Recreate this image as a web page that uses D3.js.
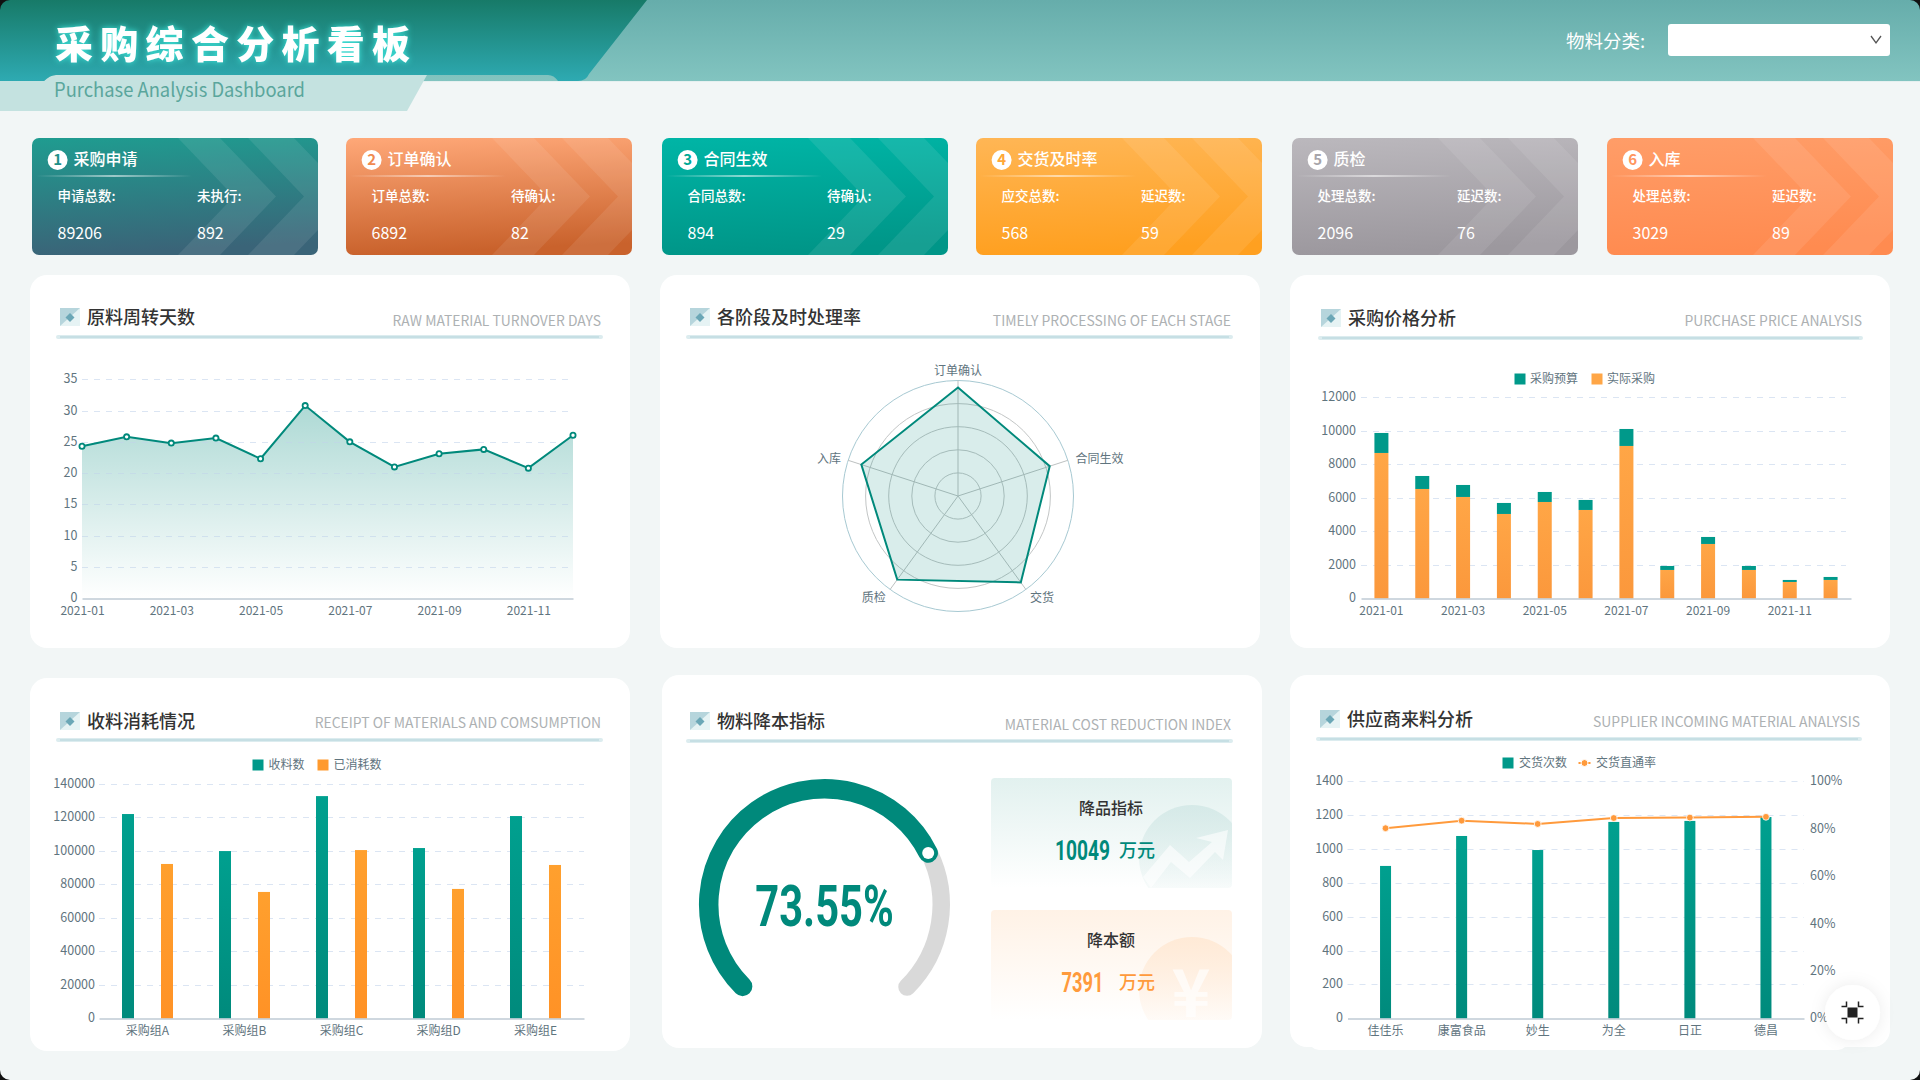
<!DOCTYPE html>
<html lang="zh">
<head>
<meta charset="utf-8">
<title>采购综合分析看板</title>
<script src="https://cdn.jsdelivr.net/npm/d3@7"></script>
<style>
html,body{margin:0;padding:0;background:#f2f6f6;overflow:hidden}
svg{display:block}
text{font-family:"Noto Sans CJK SC","Noto Sans",sans-serif}
.tick text{font-family:"Noto Sans CJK SC","Noto Sans",sans-serif}
.num{font-family:"Roboto","Liberation Sans",sans-serif;font-weight:700}
</style>
</head>
<body>
<svg id="c" width="1920" height="1080" xmlns="http://www.w3.org/2000/svg"></svg>
<script>
// ---------- data ----------
const kpiTitles  = ["采购申请","订单确认","合同生效","交货及时率","质检","入库"];
const kpiLabelsA = ["申请总数:","订单总数:","合同总数:","应交总数:","处理总数:","处理总数:"];
const kpiLabelsB = ["未执行:","待确认:","待确认:","延迟数:","延迟数:","延迟数:"];
const kpiValuesA = [89206,6892,894,568,2096,3029];
const kpiValuesB = [892,82,29,59,76,89];

const months = ["2021-01","2021-02","2021-03","2021-04","2021-05","2021-06","2021-07","2021-08","2021-09","2021-10","2021-11","2021-12"];
const monthTicks = ["2021-01","2021-03","2021-05","2021-07","2021-09","2021-11"];
const turnoverDays = [24.3,25.8,24.8,25.6,22.3,30.8,25.0,21.0,23.1,23.8,20.8,26.05];
const turnoverTicks = [0,5,10,15,20,25,30,35];

const stages = ["订单确认","合同生效","交货","质检","入库"];
const stageRates = [94,83.5,92.5,89.5,88];
const radarRings = [20,40,60,80,100];

const actualPurchase = [8677,6527,6050,5035,5751,5274,9095,1692,3244,1692,975,1095];
const budgetPurchase = [1194,776,716,657,597,597,1014,238,418,238,120,179];
const priceTicks = [0,2000,4000,6000,8000,10000,12000];

const buyerGroups = ["采购组A","采购组B","采购组C","采购组D","采购组E"];
const received = [121900,99800,132600,101600,120700];
const consumed = [92100,75400,100400,77200,91500];
const receiptTicks = [0,20000,40000,60000,80000,100000,120000,140000];

const gaugeValue = 73.55;
const productTarget = 10049;
const costReduction = 7391;

const suppliers = ["佳佳乐","康富食品","妙生","为全","日正","德昌"];
const deliveries = [900,1077,994,1160,1166,1189];
const passRate = [80.2,83.4,82.0,84.5,84.7,85.0];
const deliveryTicks = [0,200,400,600,800,1000,1200,1400];
const rateTicks = [0,20,40,60,80,100];

// ---------- palette ----------
const TEAL="#00897b", ORANGE="#ff9a3c", TICK="#5f747e", GRID="#dbe5f3", AXIS="#9fb0bf";
const svg=d3.select("#c"), defs=svg.append("defs");

function grad(id,stops,x2=0,y2=1){
  const g=defs.append("linearGradient").attr("id",id).attr("x1",0).attr("y1",0).attr("x2",x2).attr("y2",y2);
  stops.forEach(s=>g.append("stop").attr("offset",s[0]).attr("stop-color",s[1]).attr("stop-opacity",s[2]===undefined?1:s[2]));
  return `url(#${id})`;
}
function label(g,x,y,t,size,fill,anchor="start",weight=400){
  return g.append("text").attr("x",x).attr("y",y).attr("dy","0.36em").attr("font-size",size)
    .attr("fill",fill).attr("text-anchor",anchor).attr("font-weight",weight).text(t);
}
const fit=(s,w)=>s.attr("textLength",w).attr("lengthAdjust","spacingAndGlyphs");

// ---------- page & header ----------
svg.append("rect").attr("width",1920).attr("height",1080).attr("fill","#f2f6f6");
svg.append("rect").attr("width",1920).attr("height",81).attr("fill",grad("hdrR",[[0,"#66adab"],[1,"#82c4c0"]]));
svg.append("rect").attr("y",81).attr("width",1920).attr("height",1).attr("fill","#e6f0f0");
svg.append("path").attr("d","M0 81H44Q50 75 56 75H427L407 111H0Z").attr("fill","#c4e2e0");
svg.append("path").attr("d","M0 81H44Q50 75 56 75H548Q554 75 558 81H578Q586 81 589 74L647 0H0Z")
  .attr("fill",grad("hdrL",[[0,"#177a68"],[1,"#2eaab2"]]));
label(svg,55,44,"采购综合分析看板",38,"#fff","start",900).attr("letter-spacing",7.3)
  .style("filter","drop-shadow(0 0 3px #3fe6dc)");
fit(label(svg,54,90,"Purchase Analysis Dashboard",19.5,"#5aa69c"),251);
label(svg,1566,41,"物料分类:",18.5,"#fff");
svg.append("rect").attr("x",1668).attr("y",24).attr("width",222).attr("height",32).attr("rx",3).attr("fill","#fff");
svg.append("path").attr("d","M1871 36L1876 43L1881 36").attr("fill","none").attr("stroke","#555").attr("stroke-width",1.3);

// ---------- KPI cards ----------
const kpiX=[32,346,662,976,1292,1607], KW=286, KH=117, KY=138;
const kpiGrad=[["#1f9c90","#3a6478"],["#ffa878","#c9622c"],["#00b5a6","#009688"],["#ffb655","#ffa020"],["#bbb8bd","#9c989e"],["#ff9d68","#ff8b50"]];
const kpiNum=["#1f8f88","#f08a50","#00a896","#ffa838","#a8a5aa","#ff9560"];
kpiX.forEach((x,i)=>{
  const g=svg.append("g").attr("transform",`translate(${x},${KY})`);
  const cid="kc"+i;
  defs.append("clipPath").attr("id",cid).append("rect").attr("width",KW).attr("height",KH).attr("rx",7);
  g.append("rect").attr("width",KW).attr("height",KH).attr("rx",7).attr("fill",grad("kg"+i,[[0,kpiGrad[i][0]],[1,kpiGrad[i][1]]],0.12,1));
  const c=g.append("g").attr("clip-path",`url(#${cid})`);
  [[146,188],[216,262]].forEach(([a,b])=>{
    c.append("path").attr("d",`M${a} 0H${b}L${b+56} 58.5L${b} 117H${a}L${a+56} 58.5Z`).attr("fill","#fff").attr("fill-opacity",0.085);
  });
  g.append("circle").attr("cx",25.6).attr("cy",22).attr("r",10).attr("fill","#fff");
  label(g,25.6,22,i+1,15,kpiNum[i],"middle",700);
  label(g,41.5,21,kpiTitles[i],16,"#fff","start",500);
  g.append("rect").attr("x",4).attr("y",37).attr("width",156).attr("height",2)
    .attr("fill",grad("kl"+i,[[0,"#fff",0],[0.5,"#fff",0.55],[1,"#fff",0]],1,0));
  label(g,25.6,58,kpiLabelsA[i],13.5,"#fff","start",500);
  label(g,165,58,kpiLabelsB[i],13.5,"#fff","start",500);
  label(g,25.6,95,kpiValuesA[i],16,"#fff");
  label(g,165,95,kpiValuesB[i],16,"#fff");
});

// ---------- panels ----------
const panelCol="#fff";
svg.append("rect").attr("x",1309).attr("y",900).attr("width",539).attr("height",150).attr("rx",10).attr("fill",panelCol);
[[30,275,600,373],[660,275,600,373],[1290,275,600,373],[30,678,600,373],[662,675,600,373],[1290,675,600,372]]
  .forEach(p=>svg.append("rect").attr("x",p[0]).attr("y",p[1]).attr("width",p[2]).attr("height",p[3]).attr("rx",17).attr("fill",panelCol));

const iconFill=grad("icoL",[[0,"#e6f3f4"],[1,"#e6f3f4"]]);
function header(ix,iy,tx,ty,title,erx,ey,en,lx0,lx1,ly){
  const g=svg.append("g");
  g.append("rect").attr("x",ix).attr("y",iy).attr("width",20).attr("height",18).attr("fill",iconFill);
  g.append("path").attr("d",`M${ix} ${iy}H${ix+20}L${ix} ${iy+18}Z`).attr("fill","#b6d5dc");
  g.append("path").attr("d",`M${ix+10} ${iy+5}L${ix+14.5} ${iy+9.5}L${ix+10} ${iy+14}L${ix+5.5} ${iy+9.5}Z`).attr("fill","#6ba7b6");
  label(g,tx,ty,title,18,"#333","start",500);
  label(g,erx,ey,en,13.9,"#adb1b3","end");
  g.append("line").attr("x1",lx0).attr("x2",lx1).attr("y1",ly).attr("y2",ly).attr("stroke","#dcecef").attr("stroke-width",4).attr("stroke-linecap","round");
  g.append("line").attr("x1",lx0+2).attr("x2",lx1-2).attr("y1",ly).attr("y2",ly).attr("stroke","#c6dfe4").attr("stroke-width",2);
}
header(60,308,87,318,"原料周转天数",601,321,"RAW MATERIAL TURNOVER DAYS",58,601,337);
header(690,308,717,318,"各阶段及时处理率",1231,321,"TIMELY PROCESSING OF EACH STAGE",688,1231,337);
header(1321,309,1348,319,"采购价格分析",1862,321,"PURCHASE PRICE ANALYSIS",1320,1861,338);
header(60,712,87,722,"收料消耗情况",601,723,"RECEIPT OF MATERIALS AND COMSUMPTION",58,601,740);
header(690,712,717,722,"物料降本指标",1231,725,"MATERIAL COST REDUCTION INDEX",688,1231,741);
header(1320,710,1347,720,"供应商来料分析",1860,722,"SUPPLIER INCOMING MATERIAL ANALYSIS",1318,1860,739);

function gridY(y,ticks,x0,x1){
  svg.append("g").selectAll("line").data(ticks.filter(d=>d!==0)).join("line")
    .attr("x1",x0).attr("x2",x1).attr("y1",d=>Math.round(y(d))+.5).attr("y2",d=>Math.round(y(d))+.5)
    .attr("stroke",GRID).attr("stroke-dasharray","6 6");
}
function styleAxis(g,hideDomain,size=12){
  g.selectAll("text").attr("fill",TICK).attr("font-size",size);
  g.selectAll(".tick line").remove();
  if(hideDomain) g.select(".domain").remove();
  else g.select(".domain").attr("stroke",AXIS);
}
function axLeft(x,y,ticks){
  const a=d3.axisLeft(y).tickValues(ticks).tickSize(0).tickPadding(0).tickFormat(d3.format("d"));
  const g=svg.append("g").attr("transform",`translate(${x},0)`).call(a);
  styleAxis(g,true,12.5);
  g.selectAll("text").attr("dy","0.28em");
}
function axBottom(y,scale,vals){
  const a=d3.axisBottom(scale).tickSize(0).tickPadding(8); if(vals)a.tickValues(vals);
  styleAxis(svg.append("g").attr("transform",`translate(0,${y})`).call(a),false);
}

// ---------- 1: area line ----------
{
  const x=d3.scalePoint().domain(months).range([82,573]);
  const y=d3.scaleLinear().domain([0,35]).range([598.3,379.3]);
  gridY(y,turnoverTicks,82,570);
  const ag=grad("areaG",[[0,"#00897b",0.32],[1,"#00897b",0]]);
  const data=months.map((m,i)=>[m,turnoverDays[i]]);
  svg.append("path").datum(data).attr("fill",ag)
    .attr("d",d3.area().x(d=>x(d[0])).y0(y(0)).y1(d=>y(d[1])));
  svg.append("g").selectAll("line").data(turnoverTicks.filter(d=>d)).join("line")
    .attr("x1",82).attr("x2",570).attr("y1",d=>Math.round(y(d))+.5).attr("y2",d=>Math.round(y(d))+.5)
    .attr("stroke",GRID).attr("stroke-opacity",.5).attr("stroke-dasharray","6 6");
  svg.append("path").datum(data).attr("fill","none").attr("stroke",TEAL).attr("stroke-width",2)
    .attr("d",d3.line().x(d=>x(d[0])).y(d=>y(d[1])));
  svg.append("g").selectAll("circle").data(data).join("circle")
    .attr("cx",d=>x(d[0])).attr("cy",d=>y(d[1])).attr("r",2.6).attr("fill","#fff").attr("stroke",TEAL).attr("stroke-width",1.8);
  axLeft(77.5,y,turnoverTicks);
  axBottom(598.5,x,monthTicks);
}

// ---------- 2: radar ----------
{
  const cx=958,cy=496,R=115.5;
  const r=d3.scaleLinear().domain([0,100]).range([0,R]);
  const ang=d3.scalePoint().domain(stages).range([0,2*Math.PI*4/5]);
  const pt=(s,v)=>[cx+r(v)*Math.sin(ang(s)),cy-r(v)*Math.cos(ang(s))];
  svg.append("g").selectAll("circle").data(radarRings).join("circle")
    .attr("cx",cx).attr("cy",cy).attr("r",d=>r(d)).attr("fill","none")
    .attr("stroke",d=>d===100?"#a7c9d2":"#c3c6c6").attr("stroke-width",1);
  svg.append("g").selectAll("line").data(stages).join("line")
    .attr("x1",cx).attr("y1",cy).attr("x2",d=>pt(d,100)[0]).attr("y2",d=>pt(d,100)[1]).attr("stroke","#bdc1c1");
  svg.append("polygon").attr("points",stages.map((s,i)=>pt(s,stageRates[i]).join(",")).join(" "))
    .attr("fill",TEAL).attr("fill-opacity",.15).attr("stroke",TEAL).attr("stroke-width",2).attr("stroke-linejoin","miter");
  const lp=[[958,371,"middle"],[1075.6,459,"start"],[1030,598,"start"],[885.7,598,"end"],[841,459,"end"]];
  stages.forEach((s,i)=>label(svg,lp[i][0],lp[i][1],s,12,TICK,lp[i][2]));
}

// ---------- 3: stacked bars ----------
function legendSq(x,y,fill,tx,t){
  svg.append("rect").attr("x",x).attr("y",y-5.5).attr("width",11).attr("height",11).attr("fill",fill);
  label(svg,tx,y,t,12,TICK);
}
const gTeal=grad("bT",[[0,"#00a08f"],[1,"#008a7c"]]);
const gOrange=grad("bO",[[0,"#ffa646"],[1,"#fb983c"]]);
const gOrange2=grad("bO2",[[0,"#ffa02e"],[1,"#ff9226"]]);
{
  legendSq(1514.5,379,"#00998a",1530,"采购预算");
  legendSq(1591.5,379,"#ffa646",1607,"实际采购");
  const x=d3.scaleBand().domain(months).range([1361,1851]);
  const y=d3.scaleLinear().domain([0,12000]).range([598.3,397.3]);
  gridY(y,priceTicks,1361,1846);
  const W=14, rows=months.map((m,i)=>({m,a:actualPurchase[i],b:budgetPurchase[i]}));
  const stack=d3.stack().keys(["a","b"])(rows);
  const bx=d=>x(d.data.m)+x.bandwidth()/2-W/2;
  svg.append("g").selectAll("rect").data(stack[0]).join("rect").attr("x",bx).attr("width",W)
    .attr("y",d=>y(d[1])).attr("height",d=>y(d[0])-y(d[1])).attr("fill",gOrange);
  svg.append("g").selectAll("rect").data(stack[1]).join("rect").attr("x",bx).attr("width",W)
    .attr("y",d=>y(d[1])).attr("height",d=>y(d[0])-y(d[1])).attr("fill","#00998a");
  axLeft(1356,y,priceTicks);
  axBottom(598.5,x,monthTicks);
}

// ---------- 4: grouped bars ----------
{
  legendSq(252.5,765,"#00998a",268.5,"收料数");
  legendSq(317.5,765,"#ff9a2e",333.5,"已消耗数");
  const x=d3.scaleBand().domain(buyerGroups).range([99,584]);
  const y=d3.scaleLinear().domain([0,140000]).range([1018.3,783.7]);
  gridY(y,receiptTicks,99,584);
  const W=12, off=19.5;
  svg.append("g").selectAll("rect").data(buyerGroups).join("rect")
    .attr("x",d=>x(d)+x.bandwidth()/2-off-W/2).attr("width",W)
    .attr("y",(d,i)=>y(received[i])).attr("height",(d,i)=>y(0)-y(received[i])).attr("fill",gTeal);
  svg.append("g").selectAll("rect").data(buyerGroups).join("rect")
    .attr("x",d=>x(d)+x.bandwidth()/2+off-W/2).attr("width",W)
    .attr("y",(d,i)=>y(consumed[i])).attr("height",(d,i)=>y(0)-y(consumed[i])).attr("fill",gOrange2);
  axLeft(95,y,receiptTicks);
  axBottom(1018.5,x);
}

// ---------- 5: gauge ----------
{
  const cx=824.5,cy=904.5;
  const a=d3.scaleLinear().domain([0,100]).range([-0.75*Math.PI,0.75*Math.PI]);
  const arc=(v0,v1,r)=>{const p=d3.path();p.arc(cx,cy,r,a(v0)-Math.PI/2,a(v1)-Math.PI/2);return p.toString();};
  svg.append("path").attr("d",arc(gaugeValue,100,116.7)).attr("fill","none").attr("stroke","#d9d9d9").attr("stroke-width",17.5).attr("stroke-linecap","round");
  svg.append("path").attr("d",arc(0,gaugeValue,115.8)).attr("fill","none").attr("stroke",TEAL).attr("stroke-width",19.5).attr("stroke-linecap","round");
  svg.append("circle").attr("cx",cx+115.8*Math.sin(a(gaugeValue))).attr("cy",cy-115.8*Math.cos(a(gaugeValue))).attr("r",6).attr("fill","#fff");
  fit(label(svg,cx,905,gaugeValue.toFixed(2)+"%",57,TEAL,"middle").attr("class","num"),138.5);

  const cards=[[778,"gC1",[[0,"#e2f1ef"],[1,"#ffffff"]],"降品指标",productTarget,TEAL,1055,"#cfe6e4",55],
               [910,"gC2",[[0,"#fff2e6"],[1,"#ffffff"]],"降本额",costReduction,ORANGE,1061.5,"#ffe6cf",42]];
  cards.forEach((c,i)=>{
    const top=c[0], g=svg.append("g");
    defs.append("clipPath").attr("id","cc"+i).append("rect").attr("x",991).attr("y",top).attr("width",241).attr("height",110).attr("rx",4);
    g.append("rect").attr("x",991).attr("y",top).attr("width",241).attr("height",110).attr("rx",4).attr("fill",grad(c[1],c[2]));
    const d=g.append("g").attr("clip-path",`url(#cc${i})`);
    d.append("circle").attr("cx",1192).attr("cy",top+80).attr("r",53).attr("fill",grad(c[1]+"c",[[0,c[7],0.75],[1,c[7],0]]));
    if(i===0){
      d.append("path").attr("d","M1143 877L1170 845L1189 862L1212 842L1196 838L1228 830L1223 860L1215 852L1190 878L1171 862L1151 888Z")
        .attr("fill","#fff").attr("fill-opacity",.6);
    } else {
      label(d,1191,top+83,"¥",66,"#fff","middle",700).attr("fill-opacity",.65);
    }
    label(g,1111,top+30,c[3],16,"#333","middle",500);
    fit(label(g,c[6],top+71.5,c[4],28,c[5]).attr("class","num"),c[8]);
    label(g,1119,top+73,"万元",18,c[5],"start",500);
  });
}

// ---------- 6: bars + line ----------
{
  legendSq(1502.5,763,"#00998a",1519,"交货次数");
  svg.append("line").attr("x1",1578.5).attr("x2",1590.5).attr("y1",763).attr("y2",763).attr("stroke",ORANGE).attr("stroke-width",2).attr("stroke-dasharray","3 1.5");
  svg.append("circle").attr("cx",1584.5).attr("cy",763).attr("r",3.5).attr("fill",ORANGE).attr("stroke","#fff");
  label(svg,1596,763,"交货直通率",12,TICK);
  const x=d3.scaleBand().domain(suppliers).range([1347.5,1804]);
  const y=d3.scaleLinear().domain([0,1400]).range([1018.3,781.3]);
  const yR=d3.scaleLinear().domain([0,100]).range([1018.3,781.3]);
  gridY(y,deliveryTicks,1347.5,1804);
  const W=11;
  svg.append("g").selectAll("rect").data(suppliers).join("rect")
    .attr("x",d=>x(d)+x.bandwidth()/2-W/2).attr("width",W)
    .attr("y",(d,i)=>y(deliveries[i])).attr("height",(d,i)=>y(0)-y(deliveries[i])).attr("fill",gTeal);
  const cxs=d=>x(d)+x.bandwidth()/2;
  svg.append("path").datum(suppliers).attr("fill","none").attr("stroke",ORANGE).attr("stroke-width",2)
    .attr("d",d3.line().x(cxs).y((d,i)=>yR(passRate[i])));
  svg.append("g").selectAll("circle").data(suppliers).join("circle")
    .attr("cx",cxs).attr("cy",(d,i)=>yR(passRate[i])).attr("r",3.4).attr("fill",ORANGE).attr("stroke","#fff").attr("stroke-width",.8);
  axLeft(1343,y,deliveryTicks);
  axBottom(1018.5,x);
  const ar=d3.axisRight(yR).tickValues(rateTicks).tickSize(0).tickPadding(6).tickFormat(d=>d+"%");
  const gr=svg.append("g").attr("transform","translate(1804,0)").call(ar);
  styleAxis(gr,true,12.5);
  gr.selectAll("text").attr("dy","0.28em");
}

// ---------- floating button ----------
{
  const f=defs.append("filter").attr("id","sh").attr("x","-50%").attr("y","-50%").attr("width","200%").attr("height","200%");
  f.append("feDropShadow").attr("dx",0).attr("dy",0).attr("stdDeviation",8).attr("flood-color","#000").attr("flood-opacity",.08);
  const cx=1852.5,cy=1012.5;
  svg.append("circle").attr("cx",cx).attr("cy",cy).attr("r",27.5).attr("fill","#fff").attr("filter","url(#sh)");
  svg.append("rect").attr("x",cx-5).attr("y",cy-5).attr("width",10).attr("height",10).attr("fill","#222");
  svg.append("path").attr("fill","none").attr("stroke","#222").attr("stroke-width",1.5)
    .attr("d",`M${cx-11} ${cy-6}H${cx-6}V${cy-11}M${cx+11} ${cy-6}H${cx+6}V${cy-11}M${cx-11} ${cy+6}H${cx-6}V${cy+11}M${cx+11} ${cy+6}H${cx+6}V${cy+11}`);
}

// ---------- window corners ----------
svg.append("path").attr("fill","#111").attr("fill-rule","evenodd")
  .attr("d","M0 0H1920V1080H0ZM10 0A10 10 0 0 0 0 10V1070A10 10 0 0 0 10 1080H1910A10 10 0 0 0 1920 1070V10A10 10 0 0 0 1910 0Z");
</script>
</body>
</html>
